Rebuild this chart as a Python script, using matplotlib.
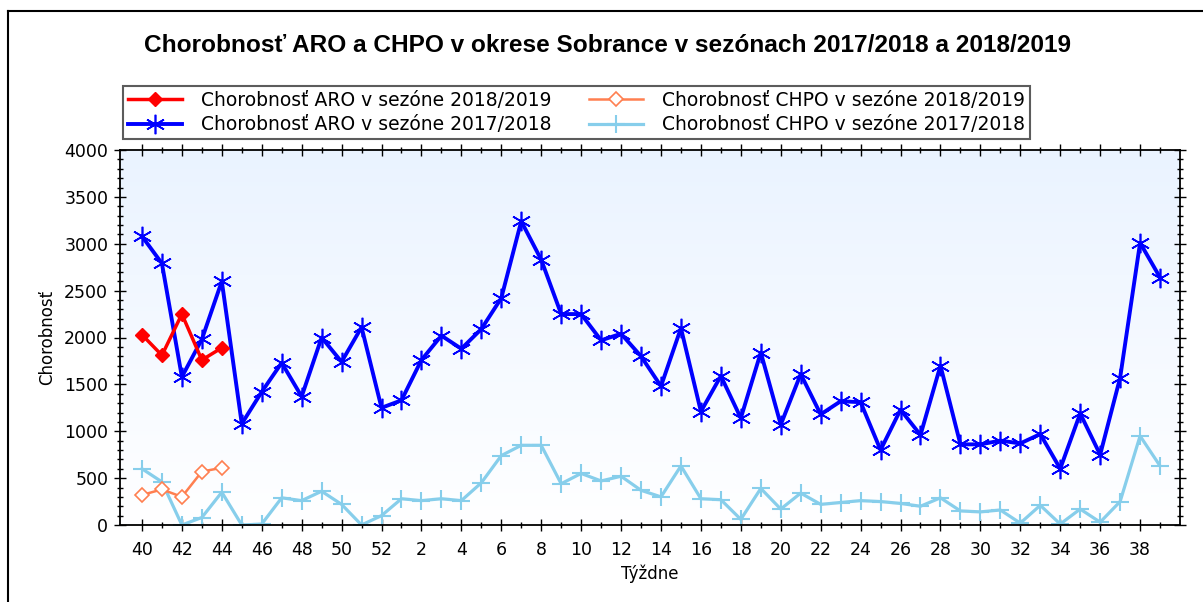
import matplotlib
matplotlib.use('Agg')
import matplotlib.pyplot as plt
import numpy as np
from matplotlib.ticker import MultipleLocator, FixedLocator
from matplotlib.lines import Line2D

# tyzdne sezony 40..52, 1..39
weeks = list(range(40, 53)) + list(range(1, 40))

aro_1718 = [3080, 2790, 1580, 1980, 2600, 1080, 1420, 1730, 1370, 2000,
            1740, 2110, 1250, 1330, 1760, 2020, 1880, 2090, 2420, 3240,
            2830, 2250, 2250, 1970, 2040, 1800, 1480, 2100, 1210, 1590,
            1140, 1840, 1070, 1610, 1180, 1320, 1310, 800, 1230, 960,
            1700, 860, 860, 900, 870, 970, 600, 1190, 750, 1570,
            3010, 2640]
chpo_1718 = [600, 460, 0, 80, 350, 0, 10, 290, 260, 360,
             220, 0, 100, 280, 260, 280, 260, 450, 740, 850,
             850, 440, 550, 470, 520, 370, 300, 630, 280, 270,
             60, 390, 170, 340, 220, 240, 260, 250, 230, 200,
             290, 150, 140, 160, 20, 210, 10, 170, 30, 250,
             950, 630]
aro_1819 = [2030, 1810, 2250, 1760, 1890]
chpo_1819 = [320, 380, 300, 570, 610]

x = np.arange(len(weeks))

fig = plt.figure(figsize=(12.03, 6.02), dpi=100)
ax = fig.add_axes([120/1203, 77/602, 1060/1203, 375/602])

# gradient pozadia
grad = np.linspace(0, 1, 256).reshape(-1, 1)
cm = matplotlib.colors.LinearSegmentedColormap.from_list('bg', ['#ffffff', '#eaf3ff'])
ax.imshow(grad, cmap=cm, aspect='auto', extent=[-1.1, 52, 0, 4000],
          origin='lower', zorder=0)

ax.plot(x[:len(chpo_1718)], chpo_1718, color='#87ceeb', lw=2.3, marker='+',
        ms=13, mew=1.5, zorder=2)
ax.plot(x[:len(aro_1718)], aro_1718, color='#0000ff', lw=2.8, marker=(6, 2, 0),
        ms=14, mew=1.2, zorder=3)
ax.plot(x[:len(chpo_1819)], chpo_1819, color='#ff7f50', lw=1.8, marker='D',
        ms=7, mfc='white', mec='#ff7f50', mew=1.2, zorder=4)
ax.plot(x[:len(aro_1819)], aro_1819, color='#ff0000', lw=2.5, marker='D',
        ms=7, zorder=5)

ax.set_xlim(-1.1, 52)
ax.set_ylim(0, 4000)

ax.yaxis.set_major_locator(MultipleLocator(500))
ax.yaxis.set_minor_locator(MultipleLocator(100))
ax.xaxis.set_major_locator(FixedLocator(x[::2]))
ax.xaxis.set_minor_locator(FixedLocator(x))
ax.set_xticklabels([str(w) for w in weeks[::2]])

ax.tick_params(axis='both', which='major', direction='inout', length=9,
               width=1, labelsize=12.5, pad=4)
ax.tick_params(axis='both', which='minor', direction='inout', length=5, width=1)
ax.tick_params(top=True, right=True, which='both')
ax.tick_params(axis='x', which='major', pad=7)
for s in ax.spines.values():
    s.set_linewidth(1.3)

ax.set_ylabel('Chorobnosť', fontsize=12, labelpad=6)
ax.set_xlabel('Týždne', fontsize=12, labelpad=4)

fig.text(0.505, 0.925, 'Chorobnosť ARO a CHPO v okrese Sobrance v sezónach 2017/2018 a 2018/2019',
         ha='center', va='center', fontsize=17.6, fontweight='bold',
         family=['Liberation Sans', 'DejaVu Sans'])

handles = [
    Line2D([], [], color='#ff0000', lw=2.5, marker='D', ms=7),
    Line2D([], [], color='#0000ff', lw=2.8, marker=(6, 2, 0), ms=14, mew=1.2),
    Line2D([], [], color='#ff7f50', lw=1.8, marker='D', ms=7, mfc='white', mew=1.2),
    Line2D([], [], color='#87ceeb', lw=2.3, marker='+', ms=13, mew=1.5),
]
labels = ['Chorobnosť ARO v sezóne 2018/2019', 'Chorobnosť ARO v sezóne 2017/2018',
          'Chorobnosť CHPO v sezóne 2018/2019', 'Chorobnosť CHPO v sezóne 2017/2018']
leg = fig.legend(handles, labels, ncol=2, loc='upper left',
                 bbox_to_anchor=(123/1203, 1 - 86/602), fontsize=13.5,
                 frameon=True, fancybox=False, edgecolor='#333333',
                 handlelength=2.9, handletextpad=1.0, columnspacing=2.0,
                 borderpad=0.25, labelspacing=0.3, borderaxespad=0)
leg.get_frame().set_linewidth(1.5)

# okraj obrazka
fig.add_artist(Line2D([8/1203, 8/1203], [0, 1 - 11/602], color='black', lw=1.5))
fig.add_artist(Line2D([8/1203, 1], [1 - 11/602, 1 - 11/602], color='black', lw=1.5))

fig.savefig('out.png', dpi=100)
